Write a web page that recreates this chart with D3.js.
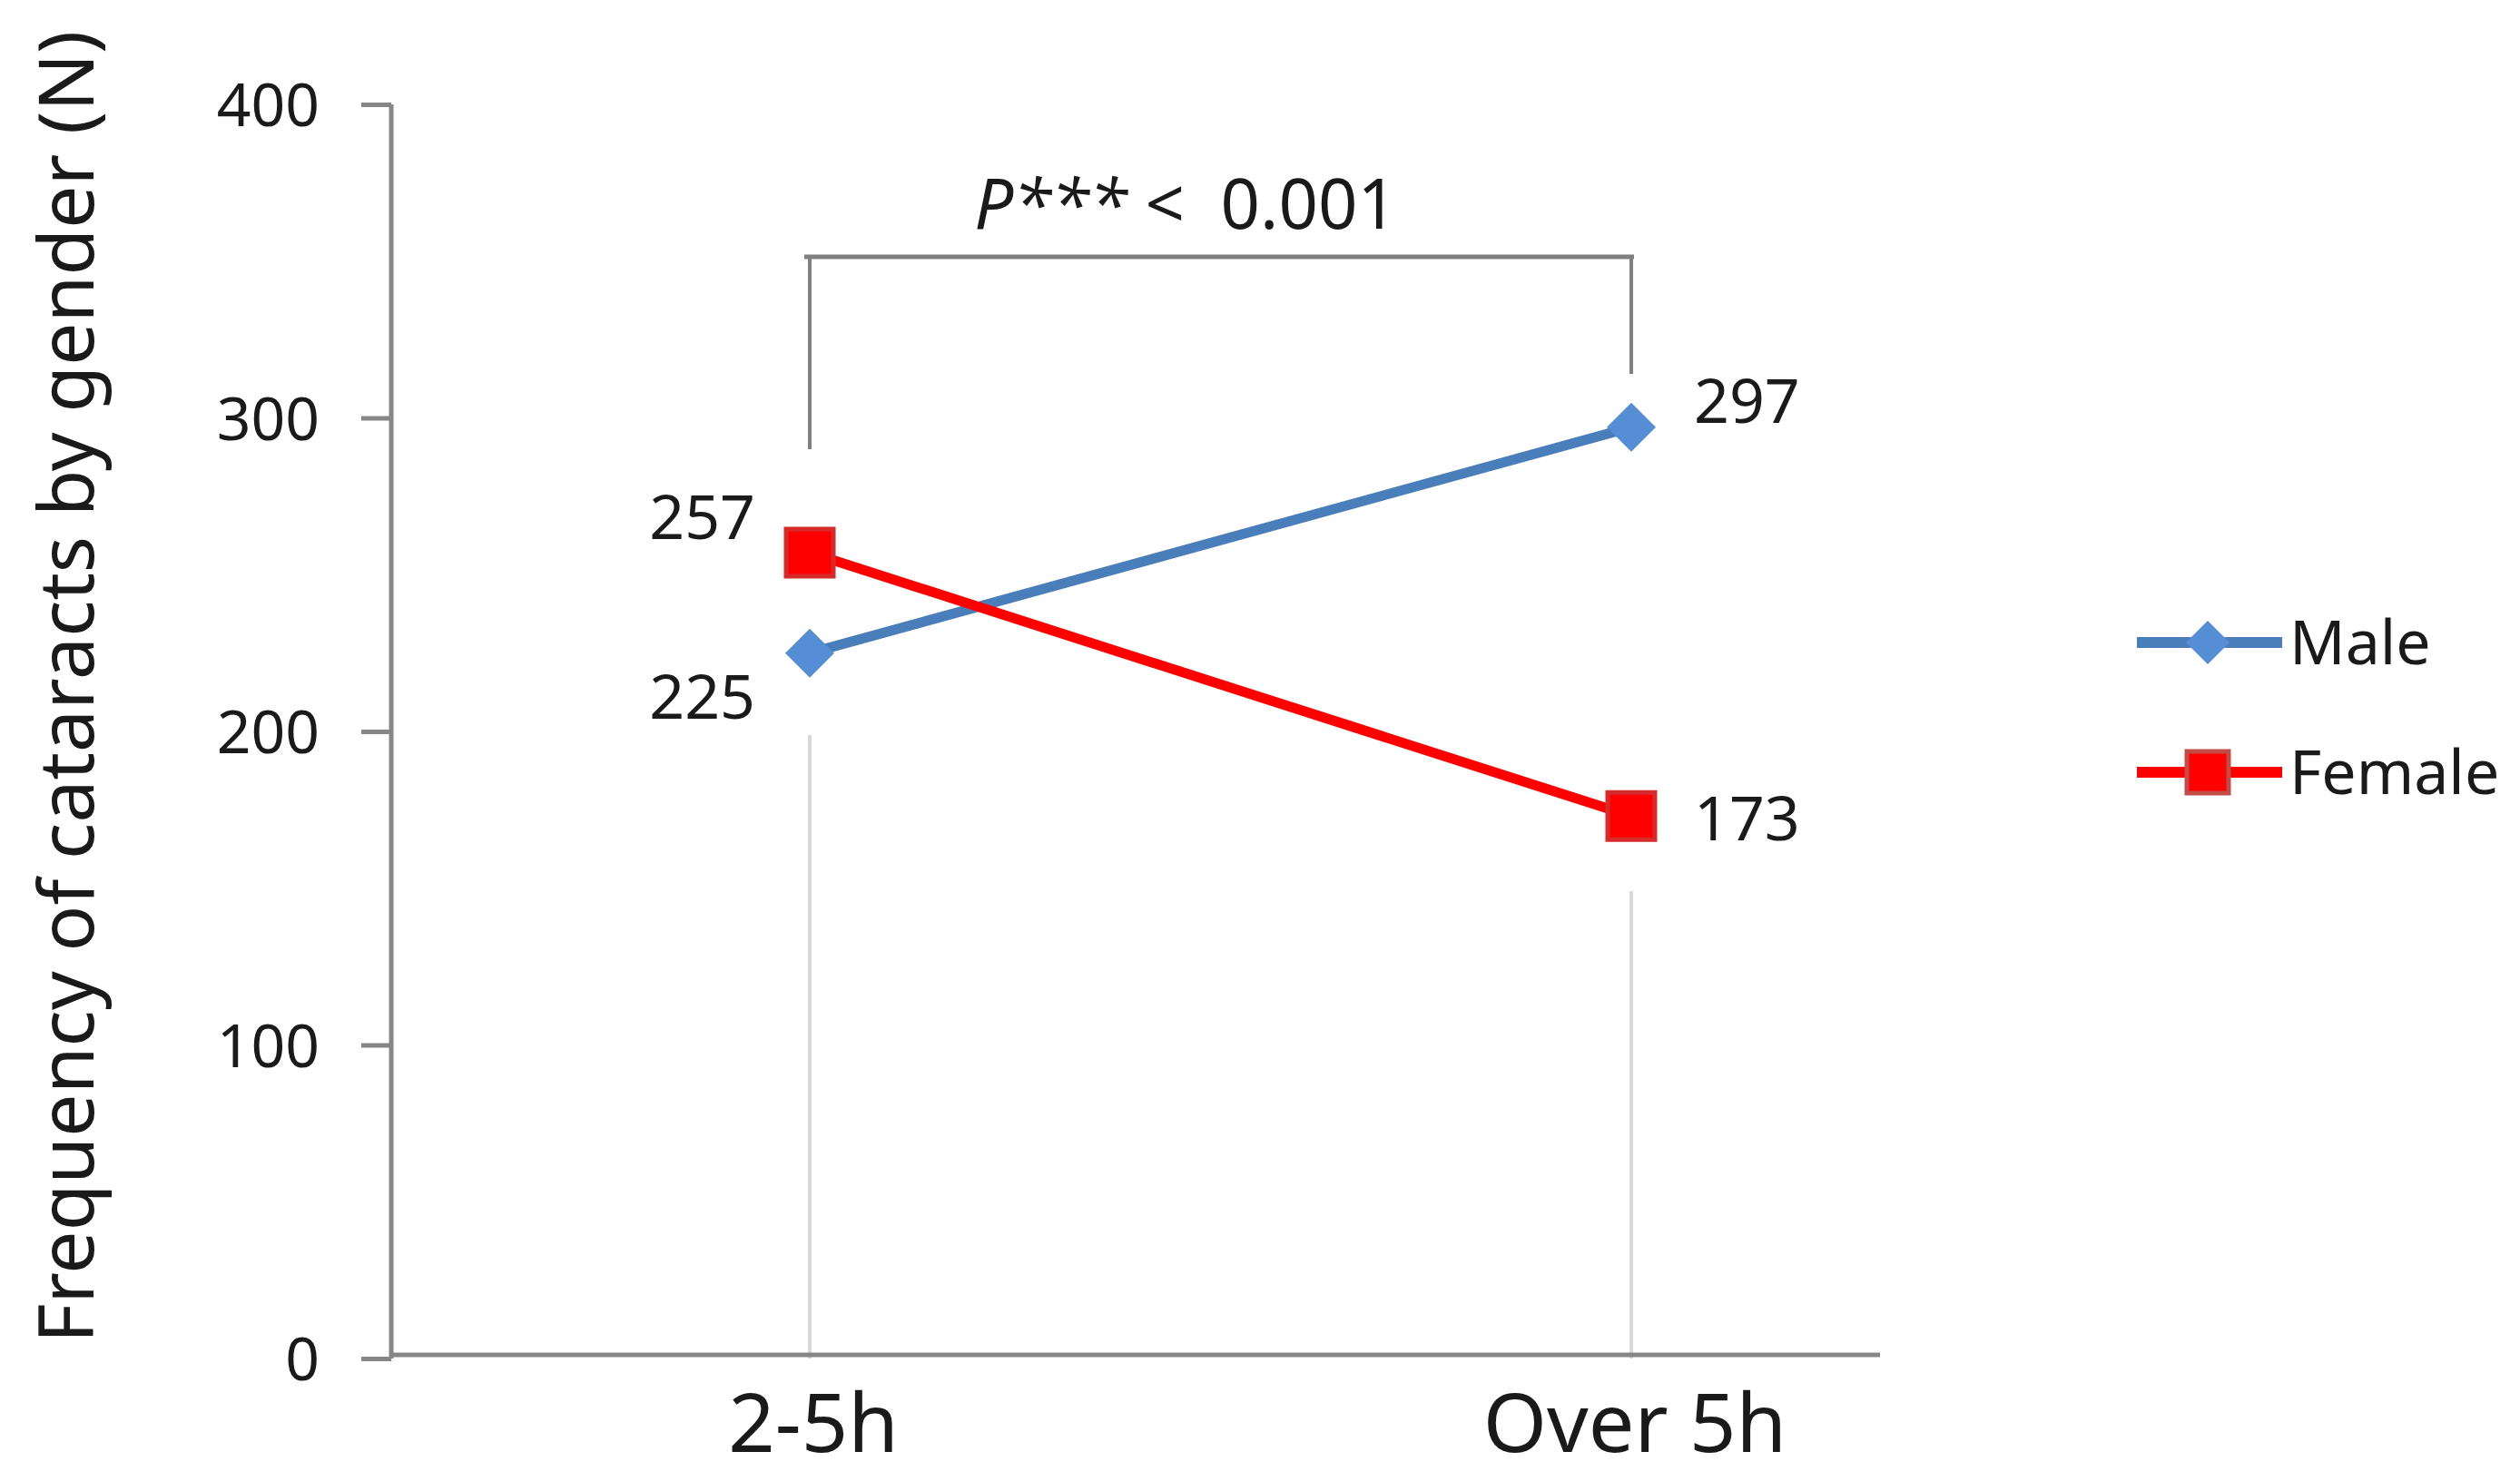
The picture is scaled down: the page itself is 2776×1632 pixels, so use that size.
<!DOCTYPE html>
<html><head><meta charset="utf-8">
<script src="https://cdn.jsdelivr.net/npm/d3@7"></script>
<style>
html,body{margin:0;padding:0;background:#fff;}
svg{display:block;font-family:'Noto Sans',sans-serif;}
</style>
</head><body>
<svg id="chart" width="2776" height="1632"></svg>
<script>
// ---- data ----
const categories = ["2-5h", "Over 5h"];
const maleValues = [225, 297];
const femaleValues = [257, 173];
const seriesNames = ["Male", "Female"];
const yTicks = [0, 100, 200, 300, 400];
const yTitle = "Frequency of cataracts by gender (N)";
const pItalic = "P***";
const pRest = " <  0.001";

// ---- layout / style ----
const svg = d3.select("#chart");
const y = d3.scaleLinear().domain([0, 400]).range([1497, 115]);
const x = d3.scalePoint().domain(categories).range([892, 1797]);
const axisColor = "#868686";

const series = [
  {name: seriesNames[0], values: maleValues, color: "#4a7ebb", fill: "#558ed5", stroke: "none", shape: "diamond",
   labelDx: [-60, 69], labelDy: [48, -29], anchor: ["end", "start"]},
  {name: seriesNames[1], values: femaleValues, color: "#ff0000", fill: "#ff0000", stroke: "#d62b2b", shape: "square",
   labelDx: [-60, 69], labelDy: [-40, 2], anchor: ["end", "start"]}
];

function markerPath(shape, r) {
  if (shape === "diamond") return `M0,${-r}L${r},0L0,${r}L${-r},0Z`;
  return `M${-r},${-r}H${r}V${r}H${-r}Z`;
}

// vertical light gridlines at categories (partial)
const gridTop = [810, 982];
svg.append("g").selectAll("line").data(categories).join("line")
  .attr("x1", d => x(d)).attr("x2", d => x(d))
  .attr("y1", (d, i) => gridTop[i]).attr("y2", y(0))
  .attr("stroke", "#d9d9d9").attr("stroke-width", 4);

// y axis
const yAxis = d3.axisLeft(y).tickValues(yTicks).tickSize(33).tickPadding(46);
const gy = svg.append("g").attr("transform", "translate(431,0)").call(yAxis);
gy.select(".domain").attr("stroke", axisColor).attr("stroke-width", 5).attr("d", `M0,${y(400)}V${y(0)}`);
gy.selectAll(".tick line").attr("stroke", axisColor).attr("stroke-width", 5);
gy.selectAll(".tick text").attr("font-size", 66).attr("fill", "#1a1a1a")
  .attr("font-family", "'Noto Sans',sans-serif").attr("dy", "0.36em");

// x axis line
svg.append("line").attr("x1", 429).attr("x2", 2071).attr("y1", y(0) - 4).attr("y2", y(0) - 4)
  .attr("stroke", axisColor).attr("stroke-width", 5);

// x labels
svg.append("g").selectAll("text").data(categories).join("text")
  .attr("x", d => x(d) + 4).attr("y", 1600)
  .attr("text-anchor", "middle").attr("font-size", 90).attr("fill", "#1a1a1a")
  .text(d => d);

// y title
svg.append("text").attr("transform", "translate(103,757) rotate(-90)")
  .attr("text-anchor", "middle").attr("font-size", 84).attr("fill", "#1a1a1a")
  .text(yTitle);

// significance bracket
const bracketTop = 283, leftBottom = 495, rightBottom = 412;
const bx0 = x(categories[0]), bx1 = x(categories[1]);
svg.append("line").attr("x1", bx0 - 6).attr("x2", bx1 + 3).attr("y1", bracketTop).attr("y2", bracketTop)
  .attr("stroke", "#808080").attr("stroke-width", 5);
svg.append("line").attr("x1", bx0).attr("x2", bx0).attr("y1", bracketTop).attr("y2", leftBottom)
  .attr("stroke", "#808080").attr("stroke-width", 4);
svg.append("line").attr("x1", bx1).attr("x2", bx1).attr("y1", bracketTop).attr("y2", rightBottom)
  .attr("stroke", "#808080").attr("stroke-width", 4);
const pt = svg.append("text").attr("x", 1306).attr("y", 252).attr("text-anchor", "middle")
  .attr("font-size", 76).attr("fill", "#1a1a1a").attr("xml:space", "preserve").style("white-space", "pre");
pt.append("tspan").attr("font-style", "italic").text(pItalic);
pt.append("tspan").text(pRest);

// lines + markers
const line = d3.line().x((d, i) => x(categories[i])).y(d => y(d));
series.forEach(s => {
  svg.append("path").attr("d", line(s.values)).attr("fill", "none")
    .attr("stroke", s.color).attr("stroke-width", 11).attr("stroke-linejoin", "round");
});
series.forEach(s => {
  svg.append("g").selectAll("path").data(s.values).join("path")
    .attr("transform", (d, i) => `translate(${x(categories[i])},${y(d)})`)
    .attr("d", markerPath(s.shape, s.shape === "diamond" ? 27 : 26))
    .attr("fill", s.fill).attr("stroke", s.stroke).attr("stroke-width", s.stroke === "none" ? 0 : 5);
  svg.append("g").selectAll("text").data(s.values).join("text")
    .attr("x", (d, i) => x(categories[i]) + s.labelDx[i])
    .attr("y", (d, i) => y(d) + s.labelDy[i])
    .attr("dy", "0.36em").attr("text-anchor", (d, i) => s.anchor[i])
    .attr("font-size", 68).attr("fill", "#1a1a1a").text(d => d);
});

// legend
const legendY = [708, 851];
const lg = svg.append("g").selectAll("g").data(series).join("g")
  .attr("transform", (d, i) => `translate(0,${legendY[i]})`);
lg.append("line").attr("x1", 2354).attr("x2", 2514).attr("y1", 0).attr("y2", 0)
  .attr("stroke", d => d.color).attr("stroke-width", 12);
lg.append("path").attr("transform", "translate(2432,0)")
  .attr("d", d => markerPath(d.shape, d.shape === "diamond" ? 24 : 23))
  .attr("fill", d => d.fill).attr("stroke", d => d.shape === "square" ? "#c24a47" : "none")
  .attr("stroke-width", d => d.shape === "square" ? 5 : 0);
lg.append("text").attr("x", 2522).attr("y", 24).attr("font-size", 68).attr("fill", "#1a1a1a")
  .text(d => d.name);
</script>
</body></html>
